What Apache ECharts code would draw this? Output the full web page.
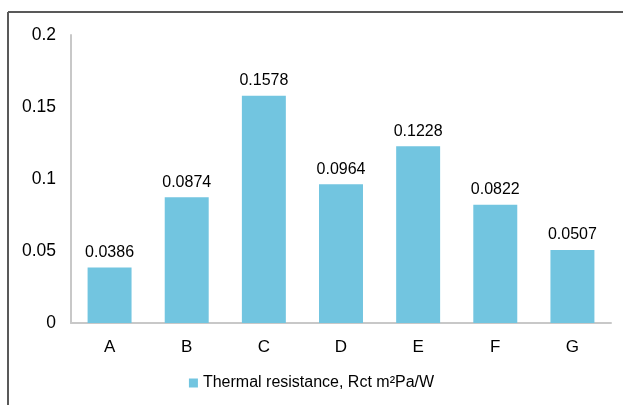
<!DOCTYPE html>
<html>
<head>
  <meta charset="utf-8">
  <title>Thermal resistance</title>
  <script src="https://fastly.jsdelivr.net/npm/echarts@6/dist/echarts.min.js"></script>
</head>
<body style="margin:0">
<div id="chart-container" style="width:623px;height:405px;"></div>
<script type="text/javascript">
  var categories = ['A', 'B', 'C', 'D', 'E', 'F', 'G'];
  var values = [0.0386, 0.0874, 0.1578, 0.0964, 0.1228, 0.0822, 0.0507];
  var seriesName = 'Thermal resistance, Rct m\u00b2Pa/W';

  var myChart = echarts.init(document.getElementById('chart-container'), null, { renderer: 'canvas' });
  var font = 'Liberation Sans, Arial, sans-serif';

  var option = {
    backgroundColor: '#fff',
    animation: false,
    textStyle: { fontFamily: font },
    graphic: [
      // frame: only top and left edges are visible in the crop
      { type: 'line', shape: { x1: 8, y1: 12, x2: 623, y2: 12 }, style: { stroke: '#595959', lineWidth: 2 } },
      { type: 'line', shape: { x1: 8, y1: 12, x2: 8, y2: 405 }, style: { stroke: '#595959', lineWidth: 2 } }
    ],
    grid: { left: 71, right: 12, top: 35, bottom: 82, containLabel: false },
    legend: {
      bottom: 9,
      left: 'center',
      itemWidth: 9,
      itemHeight: 9,
      icon: 'rect',
      itemGap: 6,
      textStyle: { fontSize: 16, color: '#000', fontFamily: font }
    },
    xAxis: {
      type: 'category',
      data: categories,
      axisLine: { lineStyle: { color: '#c8c8c8', width: 2 } },
      axisTick: { show: false },
      axisLabel: { fontSize: 17, color: '#000', margin: 16 }
    },
    yAxis: {
      type: 'value',
      min: 0,
      max: 0.2,
      interval: 0.05,
      axisLine: { show: true, lineStyle: { color: '#c8c8c8', width: 2 } },
      axisTick: { show: false },
      splitLine: { show: false },
      axisLabel: { fontSize: 17.5, color: '#000', margin: 15 }
    },
    series: [{
      name: seriesName,
      type: 'bar',
      data: values,
      barWidth: '57%',
      itemStyle: { color: '#72C5E0' },
      label: {
        show: true,
        position: 'top',
        distance: 7,
        fontSize: 16,
        color: '#000',
        formatter: function (p) { return p.value; }
      }
    }]
  };

  myChart.setOption(option);
  window.addEventListener('resize', myChart.resize);
</script>
</body>
</html>
